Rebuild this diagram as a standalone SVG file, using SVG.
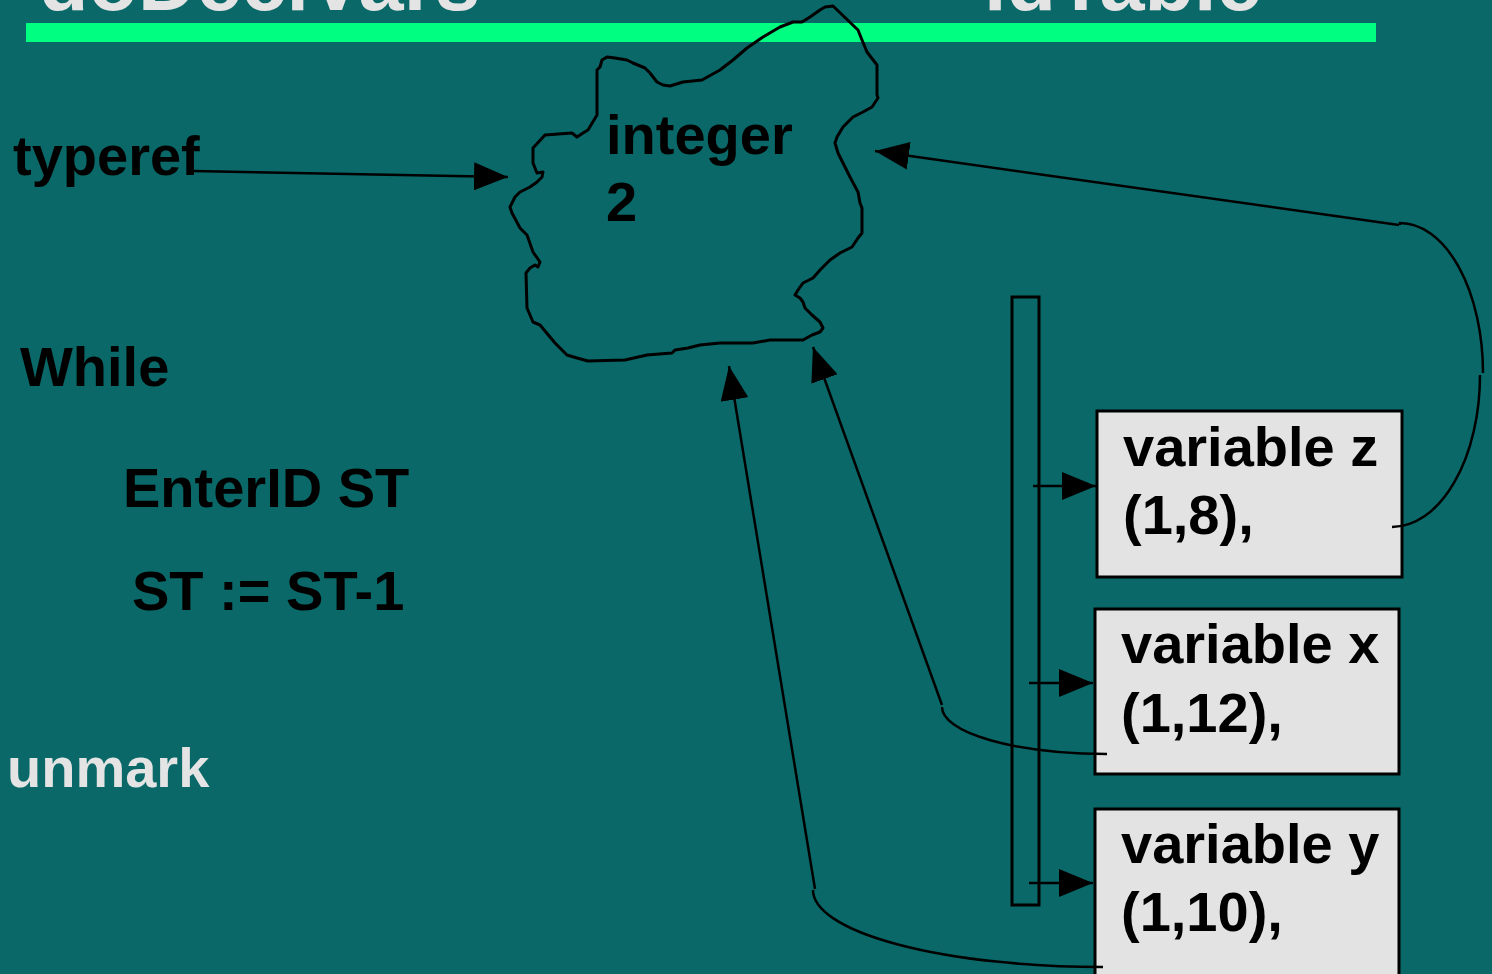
<svg xmlns="http://www.w3.org/2000/svg" width="1492" height="974" viewBox="0 0 1492 974">
<style>
.t{font-family:"Liberation Sans",Arial,sans-serif;font-weight:bold;font-size:56px;fill:#000}
.g{fill:#e4e4e4}
.title{font-size:81px}
.box{fill:#e3e3e3;stroke:#000;stroke-width:3}
.c{fill:none;stroke:#000;stroke-width:2.5}
</style>
<defs>
<marker id="ah" markerUnits="userSpaceOnUse" viewBox="0 0 34 28" refX="34" refY="14" markerWidth="34" markerHeight="28" orient="auto">
<path d="M0,0 L34,14 L0,28 z" fill="#000"/>
</marker>
</defs>
<rect width="1492" height="974" fill="#0a6868"/>
<g id="title">
<text class="t g title" x="39" y="10">doDeclVars</text>
<text class="t g title" x="984" y="10">idTable</text>
<rect x="26" y="23" width="1350" height="19" fill="#00ff80"/>
</g>
<g id="cloud">
<path fill="none" stroke="#000" stroke-width="3" stroke-linejoin="round" d="M825,7 L833,6 L858,30 L862,40 L867,52 L877,65 L877,95 L878,98 L872,107 L863,112 L853,117 L843,127 L837,137 L835,143 L838,153 L850,177 L858,192 L860,203 L862,208 L862,233 L858,238 L852,247 L840,253 L830,260 L820,270 L813,278 L803,283 L798,290 L795,295 L800,298 L803,302 L805,308 L812,315 L820,322 L823,328 L820,332 L812,335 L803,340 L770,340 L753,343 L720,343 L700,345 L688,348 L675,350 L672,353 L647,355 L625,360 L588,361 L577,358 L567,355 L555,343 L540,325 L533,322 L527,308 L526,273 L530,268 L535,265 L538,267 L540,262 L533,252 L527,235 L520,228 L512,213 L510,207 L515,197 L520,192 L530,187 L537,182 L542,177 L543,172 L537,173 L533,163 L533,148 L545,135 L572,133 L577,137 L583,133 L588,130 L597,115 L597,70 L600,67 L602,60 L607,57 L615,58 L627,60 L633,63 L645,68 L650,73 L657,82 L663,85 L670,86 L683,82 L702,80 L720,70 L733,60 L747,48 L763,37 L780,27 L793,22 L802,22 L810,17 L820,10 Z"/>
<text class="t" x="606" y="154">integer</text>
<text class="t" x="606" y="221">2</text>
</g>
<g id="labels">
<text class="t" x="13" y="175">typeref</text>
<text class="t" x="20" y="386">While</text>
<text class="t" x="123" y="507">EnterID ST</text>
<text class="t" x="132" y="610">ST := ST-1</text>
<text class="t g" x="7" y="787">unmark</text>
</g>
<g id="hashbar">
<rect x="1012" y="297" width="27" height="608" fill="none" stroke="#000" stroke-width="3"/>
</g>
<g id="var-z">
<rect class="box" x="1097" y="411" width="305" height="166"/>
<text class="t" x="1123" y="466">variable z</text>
<text class="t" x="1123" y="534">(1,8),</text>
</g>
<g id="var-x">
<rect class="box" x="1095" y="609" width="304" height="165"/>
<text class="t" x="1121" y="663">variable x</text>
<text class="t" x="1121" y="732">(1,12),</text>
</g>
<g id="var-y">
<rect class="box" x="1095" y="809" width="304" height="180"/>
<text class="t" x="1121" y="863">variable y</text>
<text class="t" x="1121" y="931">(1,10),</text>
</g>
<g id="connectors">
<path class="c" d="M193,171 L508,177" marker-end="url(#ah)"/>
<path class="c" d="M1033,486 L1096,486" marker-end="url(#ah)"/>
<path class="c" d="M1029,683 L1093,683" marker-end="url(#ah)"/>
<path class="c" d="M1029,883 L1093,883" marker-end="url(#ah)"/>
<path class="c" d="M1392,527 A88,152 0 0 0 1480,375"/>
<path class="c" d="M1483,373 A83,150 0 0 0 1400,223 L1400,225"/>
<path class="c" d="M1399,225 L875,151" marker-end="url(#ah)"/>
<path class="c" d="M1107,754 A165,47 0 0 1 942,707"/>
<path class="c" d="M942,705 L813,347" marker-end="url(#ah)"/>
<path class="c" d="M1103,967 A290,77 0 0 1 813,890"/>
<path class="c" d="M815,889 L729,366" marker-end="url(#ah)"/>
</g>
</svg>
